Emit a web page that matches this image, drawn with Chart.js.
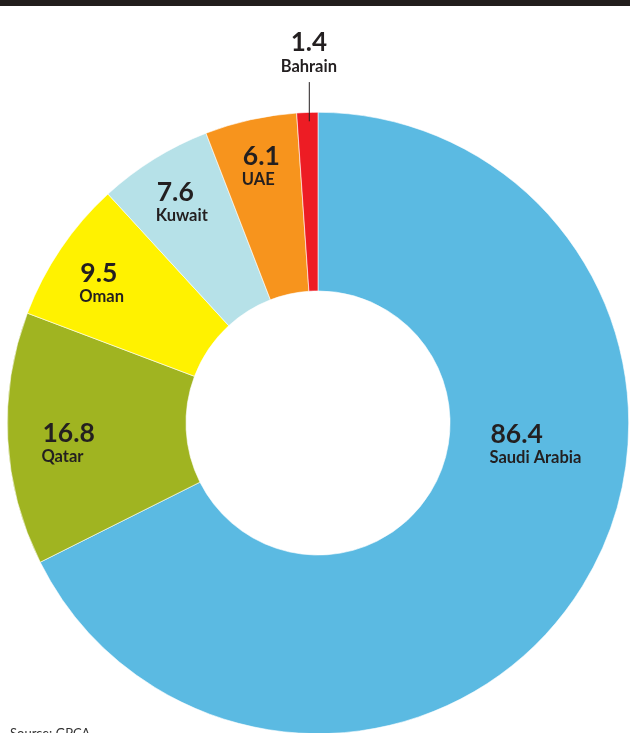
<!DOCTYPE html>
<html>
<head>
<meta charset="utf-8">
<script src="https://cdn.jsdelivr.net/npm/chart.js@4/dist/chart.umd.min.js"></script>
<style>
  html, body { margin: 0; padding: 0; background: #ffffff; overflow: hidden; }
  #wrap { position: relative; width: 630px; height: 733px; overflow: hidden; }
  #topbar { position: absolute; left: 0; top: 0; width: 630px; height: 6px; background: #221e1d; }
  #c { position: absolute; left: 0; top: 0; }
  #source { position: absolute; left: 10px; top: 725px; font-family: Lato, sans-serif; font-size: 13px; color: #333; }
</style>
</head>
<body>
<div id="wrap">
  <canvas id="c" width="630" height="760"></canvas>
  <div id="topbar"></div>
  <div id="source">Source: GPCA</div>
</div>
<script>
// ---- data ----
const countries = ["Saudi Arabia", "Qatar", "Oman", "Kuwait", "UAE", "Bahrain"];
const values = [86.4, 16.8, 9.5, 7.6, 6.1, 1.4];
const valueLabels = ["86.4", "16.8", "9.5", "7.6", "6.1", "1.4"];

// ---- style ----
const colors = ["#5bbae2", "#a0b421", "#fff200", "#b6e1e8", "#f7941d", "#ed1c24"];
// label anchor offsets as fractions of outer radius from the centre (left-aligned text baseline)
const labelOffsets = [[0.555, 0.065], [-0.887, 0.061], [-0.765, -0.455], [-0.519, -0.713], [-0.242, -0.829], [null, -1.197]];
const textColor = "#231f20";

const labelPlugin = {
  id: "sliceLabels",
  afterDatasetsDraw(chart) {
    const ctx = chart.ctx;
    const meta = chart.getDatasetMeta(0);
    ctx.save();
    meta.data.forEach((arc, i) => {
      const R = arc.outerRadius;
      const cx = arc.x, cy = arc.y;
      const off = labelOffsets[i];
      ctx.fillStyle = textColor;
      ctx.textBaseline = "alphabetic";
      if (off[0] === null) {
        const mid = (arc.startAngle + arc.endAngle) / 2;
        const lx = cx + Math.cos(mid) * R + 1.5;
        const ny = cy + off[1] * R;
        ctx.textAlign = "center";
        ctx.font = "bold 26px Lato";
        ctx.fillText(valueLabels[i], lx, ny);
        ctx.font = "bold 16.5px Lato";
        ctx.fillText(countries[i], lx, ny + 21);
        ctx.strokeStyle = "#231f20";
        ctx.lineWidth = 1;
        ctx.beginPath();
        ctx.moveTo(lx + 0.5, ny + 31);
        ctx.lineTo(lx + 0.5, cy - R + 9);
        ctx.stroke();
      } else {
        const x = cx + off[0] * R;
        const y = cy + off[1] * R;
        ctx.textAlign = "left";
        ctx.font = "bold 26.5px Lato";
        ctx.fillText(valueLabels[i], x, y);
        ctx.font = "bold 16.5px Lato";
        ctx.fillText(countries[i], x - 1, y + 20);
      }
    });
    ctx.restore();
  }
};

new Chart(document.getElementById("c"), {
  type: "doughnut",
  data: {
    labels: countries,
    datasets: [{
      data: values,
      backgroundColor: colors,
      borderColor: "#ffffff",
      borderWidth: 0.6
    }]
  },
  options: {
    responsive: false,
    devicePixelRatio: 1,
    animation: false,
    cutout: "42.5%",
    rotation: 0,
    layout: { padding: { left: 7, top: 112, right: 1, bottom: 26 } },
    plugins: { legend: { display: false }, tooltip: { enabled: false } }
  },
  plugins: [labelPlugin]
});
</script>
</body>
</html>
